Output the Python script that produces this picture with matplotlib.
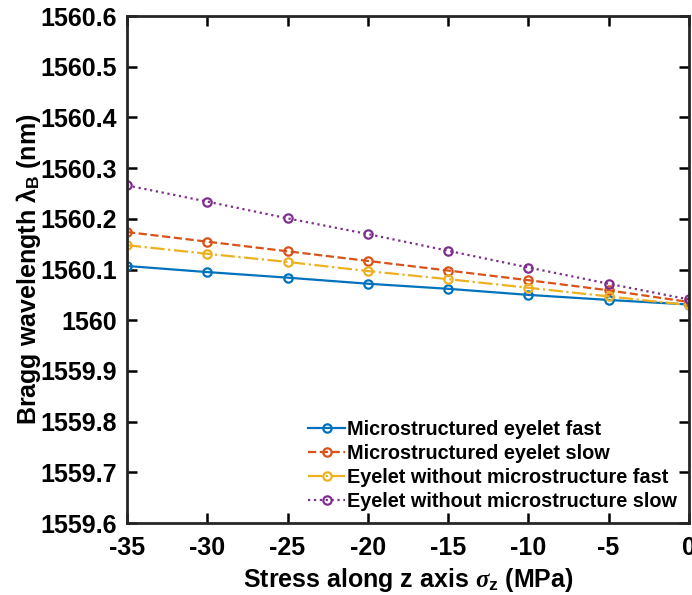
import matplotlib
matplotlib.use("Agg")
import matplotlib.pyplot as plt

plt.rcParams['font.family'] = ['Liberation Sans', 'DejaVu Sans']
plt.rcParams['font.weight'] = 'bold'
plt.rcParams['mathtext.fontset'] = 'custom'
plt.rcParams['mathtext.rm'] = 'Liberation Sans'
plt.rcParams['mathtext.it'] = 'Liberation Serif:italic'
plt.rcParams['mathtext.bf'] = 'Liberation Sans:bold'
plt.rcParams['axes.unicode_minus'] = False

# data
stress = [-35, -30, -25, -20, -15, -10, -5, 0]
fast_micro = [1560.107, 1560.095, 1560.084, 1560.072, 1560.062, 1560.050, 1560.040, 1560.031]
slow_micro = [1560.174, 1560.155, 1560.136, 1560.117, 1560.098, 1560.079, 1560.059, 1560.036]
fast_plain = [1560.148, 1560.131, 1560.115, 1560.097, 1560.081, 1560.064, 1560.047, 1560.030]
slow_plain = [1560.266, 1560.234, 1560.201, 1560.170, 1560.137, 1560.104, 1560.072, 1560.041]

labels = ["Microstructured eyelet fast", "Microstructured eyelet slow",
          "Eyelet without microstructure fast", "Eyelet without microstructure slow"]
colors = ["#0072BD", "#D95319", "#EDB120", "#7E2F8E"]
styles = ["-", "--", "-.", ":"]

yticks = [1559.6, 1559.7, 1559.8, 1559.9, 1560.0, 1560.1, 1560.2, 1560.3, 1560.4, 1560.5, 1560.6]
ytick_labels = ["1559.6", "1559.7", "1559.8", "1559.9", "1560", "1560.1",
                "1560.2", "1560.3", "1560.4", "1560.5", "1560.6"]

fig = plt.figure(figsize=(6.92, 5.95), dpi=100)
ax = fig.add_axes([0.1835, 0.121, 0.812, 0.852])

for y, lab, c, ls in zip([fast_micro, slow_micro, fast_plain, slow_plain], labels, colors, styles):
    ax.plot(stress, y, linestyle=ls, color=c, marker='o', markersize=6,
            markerfacecolor='none', markeredgewidth=1.6, linewidth=1.6, label=lab)

ax.set_xlim(-35, 0)
ax.set_ylim(1559.6, 1560.6)
ax.set_xticks(stress)
ax.set_yticks(yticks)
ax.set_yticklabels(ytick_labels)
ax.tick_params(direction='in', length=7, width=1.8, labelsize=18, top=True, right=True)
ax.tick_params(axis='x', pad=9)
ax.tick_params(axis='y', pad=7)
for s in ax.spines.values():
    s.set_linewidth(2)
    s.set_color('#262626')

ax.set_xlabel(r'Stress along z axis $\sigma_\mathbf{z}$ (MPa)', fontsize=18, fontweight='bold', labelpad=5)
ax.set_ylabel(r'Bragg wavelength $\mathrm{\lambda}_\mathbf{B}$ (nm)', fontsize=18, fontweight='bold', labelpad=-2)

ax.legend(loc='lower right', frameon=False, fontsize=14.3, handlelength=1.85,
          handletextpad=0.1, labelspacing=0.25, borderpad=0.2, borderaxespad=0.4)

fig.savefig("out.png", dpi=100)
